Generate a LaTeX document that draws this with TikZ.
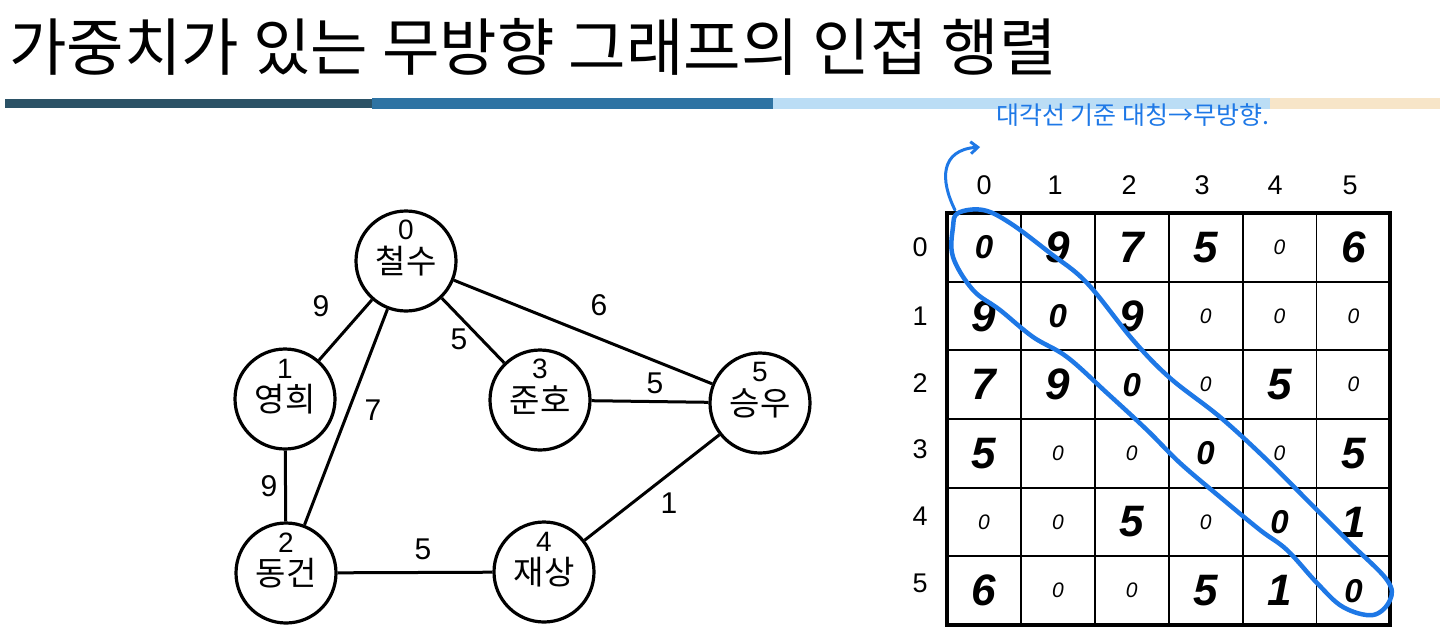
\documentclass[tikz,border=0pt]{standalone}
\usepackage{fontspec}
\setmainfont{Liberation Sans}
\newfontfamily\kr{Noto Sans CJK KR}
\usetikzlibrary{arrows.meta, calc}
\definecolor{BarDark}{RGB}{43,82,102}
\definecolor{BarMid}{RGB}{46,115,163}
\definecolor{BarLight}{RGB}{187,221,245}
\definecolor{BarSand}{RGB}{247,229,200}
\definecolor{PenBlue}{RGB}{30,120,230}

\tikzset{
  person/.style={circle, draw, line width=3.2pt, minimum size=100pt, inner sep=0pt,
                 font=\kr\fontsize{33}{33}\selectfont},
  num/.style={label={[label distance=-31pt, inner sep=0pt,
                 font=\rmfamily\fontsize{28}{28}\selectfont]90:#1}},
  weight/.style={inner sep=0pt, font=\fontsize{30}{30}\selectfont},
  head/.style={inner sep=0pt, font=\fontsize{27}{27}\selectfont},
  bigdigit/.style={inner sep=0pt, font=\bfseries\itshape\fontsize{44}{44}\selectfont},
  diagdigit/.style={inner sep=0pt, font=\bfseries\itshape\fontsize{33}{33}\selectfont},
  smalldigit/.style={inner sep=0pt, font=\itshape\fontsize{21}{21}\selectfont},
  pen/.style={PenBlue, line width=4.5pt, line cap=round, line join=round}
}

\begin{document}
\begin{tikzpicture}[x=1pt, y=-1pt]
  \useasboundingbox (0,0) rectangle (1440,641);

  % title and bar
  \node[anchor=west, inner sep=0pt, font=\kr\fontsize{62.5}{64}\selectfont] (title) at (9,47)
       {가중치가 있는 무방향 그래프의 인접 행렬};
  \fill[BarDark]  (5,99)    rectangle (372,108);
  \fill[BarMid]   (372,98)  rectangle (773,109);
  \fill[BarLight] (773,98)  rectangle (1270,109);
  \fill[BarSand]  (1270,98) rectangle (1440,109);

  % graph
  \node[person, num=0] (n0) at (406,261) {철수};
  \node[person, num=1] (n1) at (285,399) {영희};
  \node[person, num=2] (n2) at (286,573) {동건};
  \node[person, num=3] (n3) at (540,400) {준호};
  \node[person, num=4] (n4) at (544,572) {재상};
  \node[person, num=5] (n5) at (760,403) {승우};

  \draw[line width=3pt] (n0) -- (n1)
                        (n0) -- (n2)
                        (n0) -- (n3)
                        (n0) -- (n5)
                        (n1) -- (n2)
                        (n3) -- (n5)
                        (n2) -- (n4)
                        (n4) -- (n5);

  \node[weight] (w01) at (321,306) {9};
  \node[weight] (w03) at (459,339) {5};
  \node[weight] (w05) at (599,305) {6};
  \node[weight] (w02) at (373,410) {7};
  \node[weight] (w35) at (655,383) {5};
  \node[weight] (w12) at (269,486) {9};
  \node[weight] (w24) at (423,549) {5};
  \node[weight] (w45) at (669,503) {1};

  % adjacency matrix
  \foreach \i [count=\c from 0] in {984,1055,1129,1202,1275,1350}
    \node[head] (col\c) at (\i,185) {\c};
  \foreach \j [count=\r from 0] in {247,316,383,449,516,583}
    \node[head] (row\r) at (920,\j) {\r};

  \foreach \i in {1,...,5} {
    \draw[line width=1.8pt] ({947+73.9*\i},213) -- ++(0,412);
    \draw[line width=1.8pt] (947,{213+68.67*\i}) -- ++(443.4,0);
  }
  \draw[line width=4pt] (947,213) rectangle (1390.4,625);

  \foreach \row [count=\r from 0] in {{0,9,7,5,0,6},{9,0,9,0,0,0},{7,9,0,0,5,0},
                                      {5,0,0,0,0,5},{0,0,5,0,0,1},{6,0,0,5,1,0}} {
    \foreach \v [count=\c from 0] in \row {
      \ifnum\v=0
        \ifnum\r=\c \def\hw{diagdigit}\else\def\hw{smalldigit}\fi
      \else \def\hw{bigdigit}\fi
      \node[\hw] (m\r\c) at ({947+73.9*(\c+0.5)},{213+68.67*(\r+0.5)}) {\v};
    }
  }

  % pen notes
  \draw[pen] plot[smooth cycle, tension=0.6] coordinates {
    (958,213) (983,210) (1010,223) (1050,253) (1087,283) (1133,340) (1170,378)
    (1220,417) (1267,460) (1310,503) (1350,543) (1387,580) (1390,600) (1373,615)
    (1343,607) (1317,583) (1287,550) (1260,530) (1220,497) (1180,463) (1147,430)
    (1107,393) (1067,357) (1033,337) (1000,310) (973,290) (953,257) (953,227)};
  \coordinate (loop) at (955,210);
  \coordinate (hook) at (980,147);
  \draw[pen, line width=3pt, -{Straight Barb[length=7pt, width=12pt]}]
       (loop) .. controls (940,180) and (940,150) .. (hook);
  \node[anchor=west, inner sep=0pt, PenBlue, font=\kr\fontsize{25}{25}\selectfont] (memo)
       at (996,115) {대각선 기준 대칭→무방향.};
\end{tikzpicture}
\end{document}
